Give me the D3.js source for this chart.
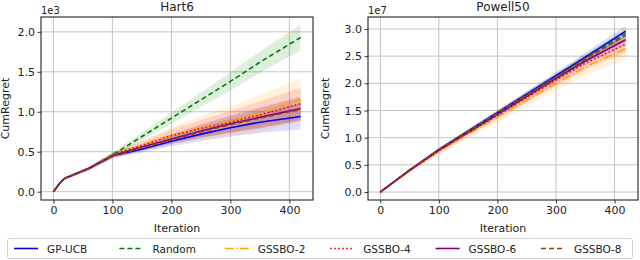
<!DOCTYPE html>
<html><head><meta charset="utf-8">
<script src="https://cdn.jsdelivr.net/npm/d3@7"></script>
<style>html,body{margin:0;padding:0;background:#fff;}svg{display:block;font-family:"DejaVu Sans",sans-serif;}</style>
</head><body><svg id="c" width="640" height="260"></svg>
<script>
// ---------- data ----------
const seriesNames = ["GP-UCB","Random","GSSBO-2","GSSBO-4","GSSBO-6","GSSBO-8"];
const xTicks = [0,100,200,300,400];
const hartYTicks = [0.0,0.5,1.0,1.5,2.0];
const powellYTicks = [0.0,0.5,1.0,1.5,2.0,2.5,3.0];

// Hart6 (units of 1e3)
const iterH = [0,5,10,15,20,30,40,50,60,70,80,90,100,150,200,250,300,350,419];
const hartGPUCB  = [0,0.05,0.10,0.14,0.17,0.20,0.23,0.26,0.29,0.33,0.37,0.41,0.45,0.53,0.63,0.72,0.80,0.87,0.94];
const hartRandom = [0,0.05,0.10,0.14,0.17,0.20,0.23,0.26,0.29,0.33,0.37,0.41,0.46,0.69,0.92,1.15,1.38,1.62,1.93];
const hartG2     = [0,0.05,0.10,0.14,0.17,0.20,0.23,0.26,0.29,0.33,0.37,0.41,0.46,0.58,0.71,0.80,0.88,0.98,1.15];
const hartG4     = [0,0.05,0.10,0.14,0.17,0.20,0.23,0.26,0.29,0.33,0.37,0.41,0.46,0.58,0.70,0.79,0.87,0.96,1.10];
const hartG6     = [0,0.05,0.10,0.14,0.17,0.20,0.23,0.26,0.29,0.33,0.37,0.41,0.45,0.56,0.66,0.76,0.85,0.93,1.04];
const hartG8     = [0,0.05,0.10,0.14,0.17,0.20,0.23,0.26,0.29,0.33,0.37,0.41,0.45,0.55,0.65,0.75,0.84,0.92,1.03];
const hartStdGPUCB  = [0,0.005,0.01,0.012,0.015,0.015,0.017,0.018,0.02,0.022,0.025,0.028,0.03,0.04,0.06,0.09,0.11,0.135,0.16];
const hartStdRandom = [0,0.005,0.01,0.012,0.015,0.015,0.017,0.018,0.02,0.022,0.025,0.028,0.03,0.05,0.07,0.09,0.115,0.135,0.16];
const hartStdG2     = [0,0.005,0.01,0.012,0.015,0.015,0.017,0.018,0.02,0.022,0.025,0.028,0.03,0.06,0.10,0.15,0.19,0.23,0.27];
const hartStdG4     = [0,0.005,0.01,0.012,0.015,0.015,0.017,0.018,0.02,0.022,0.025,0.028,0.03,0.05,0.08,0.11,0.14,0.17,0.20];
const hartStdG6     = [0,0.005,0.01,0.012,0.015,0.015,0.017,0.018,0.02,0.022,0.025,0.028,0.03,0.04,0.06,0.085,0.105,0.125,0.15];
const hartStdG8     = [0,0.005,0.01,0.012,0.015,0.015,0.017,0.018,0.02,0.022,0.025,0.028,0.03,0.04,0.06,0.08,0.10,0.125,0.15];

// Powell50 (units of 1e7)
const iterP = [0,25,50,100,150,200,250,300,350,419];
const powGPUCB  = [0,0.20,0.40,0.78,1.12,1.46,1.80,2.14,2.48,2.96];
const powRandom = [0,0.20,0.40,0.78,1.12,1.45,1.79,2.12,2.46,2.92];
const powG2     = [0,0.20,0.39,0.75,1.07,1.38,1.69,2.00,2.30,2.64];
const powG4     = [0,0.20,0.40,0.76,1.09,1.41,1.74,2.06,2.37,2.72];
const powG6     = [0,0.20,0.40,0.77,1.10,1.43,1.76,2.09,2.41,2.80];
const powG8     = [0,0.20,0.40,0.78,1.11,1.45,1.78,2.11,2.45,2.88];
const powStdGPUCB  = [0,0.01,0.02,0.03,0.04,0.05,0.06,0.07,0.08,0.10];
const powStdRandom = [0,0.01,0.015,0.025,0.035,0.045,0.05,0.06,0.07,0.08];
const powStdG2     = [0,0.02,0.04,0.06,0.08,0.10,0.12,0.14,0.16,0.20];
const powStdG4     = [0,0.015,0.03,0.045,0.06,0.075,0.09,0.105,0.12,0.15];
const powStdG6     = [0,0.01,0.02,0.03,0.04,0.05,0.06,0.07,0.08,0.10];
const powStdG8     = [0,0.01,0.02,0.03,0.04,0.05,0.06,0.07,0.08,0.10];

// ---------- styles ----------
const colors = ["#0000ff","#008000","#ffa500","#ff0000","#800080","#8b4513"];
const dashes = [null,"5,3","9,2.4,1.5,2.4","1.6,2.4",null,"5,3"];

const svg = d3.select("#c");

function panel(opt){
  const g = svg.append("g");
  const x = d3.scaleLinear().domain([-21,440]).range([opt.left,opt.right]);
  const y = d3.scaleLinear().domain(opt.ydom).range([opt.bottom,opt.top]);
  const clipId = "clip"+opt.id;
  svg.append("clipPath").attr("id",clipId).append("rect")
    .attr("x",opt.left).attr("y",opt.top).attr("width",opt.right-opt.left).attr("height",opt.bottom-opt.top);
  // grid
  g.append("g").selectAll("line").data(xTicks).join("line")
    .attr("x1",d=>x(d)).attr("x2",d=>x(d)).attr("y1",opt.top).attr("y2",opt.bottom)
    .attr("stroke","#c4c4c4").attr("stroke-width",1);
  g.append("g").selectAll("line").data(opt.yticks).join("line")
    .attr("y1",d=>y(d)).attr("y2",d=>y(d)).attr("x1",opt.left).attr("x2",opt.right)
    .attr("stroke","#c4c4c4").attr("stroke-width",1);
  const plot = g.append("g").attr("clip-path",`url(#${clipId})`);
  const iters = opt.iters;
  // bands
  opt.means.forEach((m,i)=>{
    const s = opt.stds[i];
    const area = d3.area().x((d,j)=>x(iters[j])).y0((d,j)=>y(m[j]-s[j])).y1((d,j)=>y(m[j]+s[j]));
    plot.append("path").attr("d",area(m)).attr("fill",colors[i]).attr("fill-opacity",0.13).attr("stroke","none");
  });
  // lines
  opt.means.forEach((m,i)=>{
    const line = d3.line().x((d,j)=>x(iters[j])).y(d=>y(d));
    plot.append("path").attr("d",line(m)).attr("fill","none").attr("stroke",colors[i])
      .attr("stroke-width",1.6).attr("stroke-dasharray",dashes[i]);
  });
  // axes
  const xa = d3.axisBottom(x).tickValues(xTicks).tickSize(3.5).tickPadding(3).tickFormat(d3.format("d"));
  const ya = d3.axisLeft(y).tickValues(opt.yticks).tickSize(3.5).tickPadding(2.5).tickFormat(d3.format(".1f"));
  const gx = g.append("g").attr("transform",`translate(0,${opt.bottom})`).call(xa);
  const gy = g.append("g").attr("transform",`translate(${opt.left},0)`).call(ya);
  [gx,gy].forEach(a=>{
    a.select(".domain").remove();
    a.selectAll("line").attr("stroke","#222").attr("stroke-width",0.9);
    a.selectAll("text").attr("font-size","11px").attr("fill","#222").attr("font-family","DejaVu Sans");
  });
  // frame
  g.append("rect").attr("x",opt.left).attr("y",opt.top).attr("width",opt.right-opt.left).attr("height",opt.bottom-opt.top)
    .attr("fill","none").attr("stroke","#222").attr("stroke-width",1.1);
  // texts
  g.append("text").attr("x",(opt.left+opt.right)/2).attr("y",11).attr("text-anchor","middle")
    .attr("font-size","12px").attr("fill","#222").text(opt.title);
  g.append("text").attr("x",opt.left).attr("y",14).attr("font-size","10px").attr("fill","#222").text(opt.offset);
  g.append("text").attr("x",(opt.left+opt.right)/2).attr("y",232).attr("text-anchor","middle")
    .attr("font-size","11px").attr("fill","#222").text("Iteration");
  g.append("text").attr("transform",`translate(${opt.ylabX},${(opt.top+opt.bottom)/2}) rotate(-90)`)
    .attr("text-anchor","middle").attr("font-size","11px").attr("fill","#222").text("CumRegret");
}

panel({id:1,left:41,right:313,top:17,bottom:200,ydom:[-0.104,2.186],yticks:hartYTicks,iters:iterH,
  means:[hartGPUCB,hartRandom,hartG2,hartG4,hartG6,hartG8],
  stds:[hartStdGPUCB,hartStdRandom,hartStdG2,hartStdG4,hartStdG6,hartStdG8],
  title:"Hart6",offset:"1e3",ylabX:9});
panel({id:2,left:368,right:638,top:17,bottom:200,ydom:[-0.147,3.22],yticks:powellYTicks,iters:iterP,
  means:[powGPUCB,powRandom,powG2,powG4,powG6,powG8],
  stds:[powStdGPUCB,powStdRandom,powStdG2,powStdG4,powStdG6,powStdG8],
  title:"Powell50",offset:"1e7",ylabX:329});

// legend
const lg = svg.append("g");
lg.append("rect").attr("x",7.5).attr("y",238.5).attr("width",625).attr("height",20).attr("rx",2.5)
  .attr("fill","#fff").attr("stroke","#d0d0d0").attr("stroke-width",1);
const legX = d3.scalePoint().domain(seriesNames).range([14,541]);
seriesNames.forEach((n,i)=>{
  const x0 = legX(n);
  lg.append("line").attr("x1",x0).attr("x2",x0+24).attr("y1",248.5).attr("y2",248.5)
    .attr("stroke",colors[i]).attr("stroke-width",1.6).attr("stroke-dasharray",dashes[i]);
  lg.append("text").attr("x",x0+33).attr("y",252.5).attr("font-size","10.5px").attr("fill","#222").text(n);
});
</script></body></html>
